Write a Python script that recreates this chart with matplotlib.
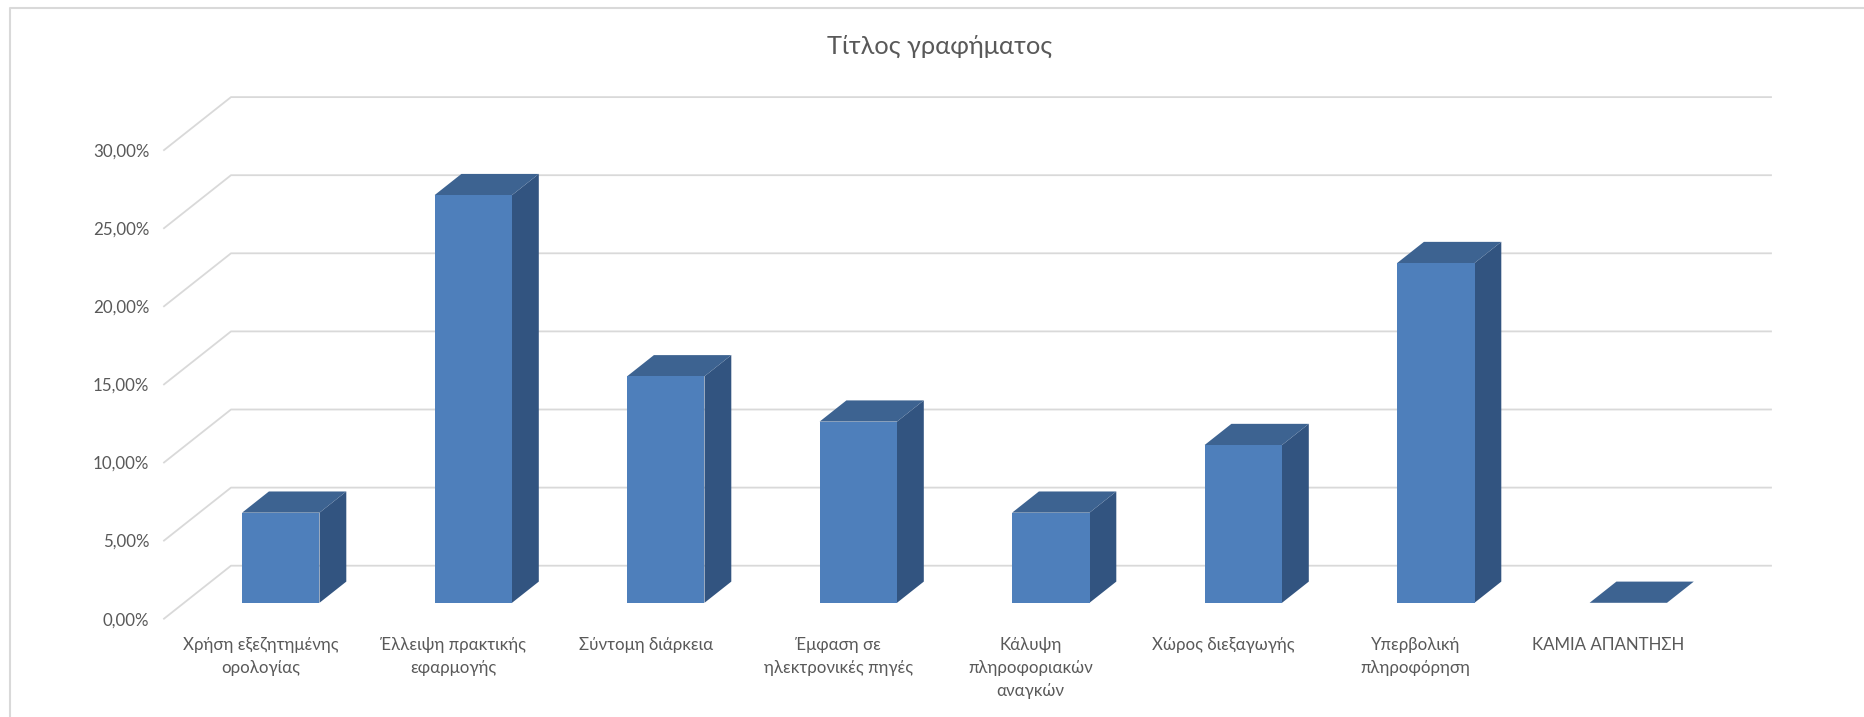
import matplotlib
matplotlib.use("Agg")
import matplotlib.pyplot as plt
from matplotlib.patches import Polygon
from matplotlib.lines import Line2D

plt.rcParams['font.family'] = ['Lato', 'Noto Sans', 'DejaVu Sans']

categories = ["Χρήση εξεζητημένης\nορολογίας", "Έλλειψη πρακτικής\nεφαρμογής", "Σύντομη διάρκεια",
              "Έμφαση σε\nηλεκτρονικές πηγές", "Κάλυψη\nπληροφοριακών\nαναγκών", "Χώρος διεξαγωγής",
              "Υπερβολική\nπληροφόρηση", "ΚΑΜΙΑ ΑΠΑΝΤΗΣΗ"]
values = [5.77, 26.1, 14.5, 11.6, 5.77, 10.1, 21.75, 0.0]
yticks = [0, 5, 10, 15, 20, 25, 30]
yticklabels = ["0,00%", "5,00%", "10,00%", "15,00%", "20,00%", "25,00%", "30,00%"]
title = "Τίτλος γραφήματος"

W, H = 1865, 717
TXT = "#595959"; GRID = "#d9d9d9"
FRONT = "#4e7fbb"; SIDE = "#325480"; TOP = "#3d6391"

fig = plt.figure(figsize=(W / 100, H / 100), dpi=100, facecolor="white")
left, right, top, bottom = 164, 1771, 96.9, 618.7
ax = fig.add_axes([left / W, 1 - bottom / H, (right - left) / W, (bottom - top) / H])
ax.set_facecolor("none")
PX_X, PX_Y = 192.5, 15.62
ax.set_xlim((left - 260.7) / PX_X, (right - 260.7) / PX_X)
ax.set_ylim(0, (bottom - top) / PX_Y)
DX, DY = 67 / PX_X, 53 / PX_Y          # floor depth in data units
x0, x1 = ax.get_xlim()

def proj(x, y, d):
    """Oblique projection: d is the depth fraction, 0 front, 1 back."""
    return (x + DX * d, y + DY * d)

for v in yticks:
    ax.add_line(Line2D(*zip(proj(x0, v, 0), proj(x0, v, 1), (x1, v + DY)),
                       color=GRID, lw=1.3, clip_on=False, zorder=1))

HW = 38.7 / PX_X
D0, D1 = 0.30, 0.70
for i, v in enumerate(values):
    a, b = i - HW, i + HW
    ax.add_patch(Polygon([proj(b, 0, D0), proj(b, 0, D1), proj(b, v, D1), proj(b, v, D0)],
                         closed=True, fc=SIDE, ec="none", zorder=3, clip_on=False))
    ax.add_patch(Polygon([proj(a, v, D0), proj(b, v, D0), proj(b, v, D1), proj(a, v, D1)],
                         closed=True, fc=TOP, ec="none", zorder=3, clip_on=False))
    ax.add_patch(Polygon([proj(a, 0, D0), proj(b, 0, D0), proj(b, v, D0), proj(a, v, D0)],
                         closed=True, fc=FRONT, ec="none", zorder=4, clip_on=False))

for s in ax.spines.values():
    s.set_visible(False)
ax.set_yticks(yticks, yticklabels)
ax.set_xticks(range(len(categories)), categories, linespacing=1.52)
ax.tick_params(axis="y", length=0, pad=10.5, labelsize=12.2, labelcolor=TXT)
ax.tick_params(axis="x", length=0, pad=13.5, labelsize=12.2, labelcolor=TXT)

fig.text(940 / W, 1 - 46 / H, title, ha="center", va="center", fontsize=18.3, color=TXT)

# chart-area frame, cropped at right and bottom
fig.add_artist(Line2D([10 / W, 10 / W, 1], [0, 1 - 8 / H, 1 - 8 / H],
                      transform=fig.transFigure, color=GRID, lw=1.5))

fig.savefig("out.png", dpi=100)
